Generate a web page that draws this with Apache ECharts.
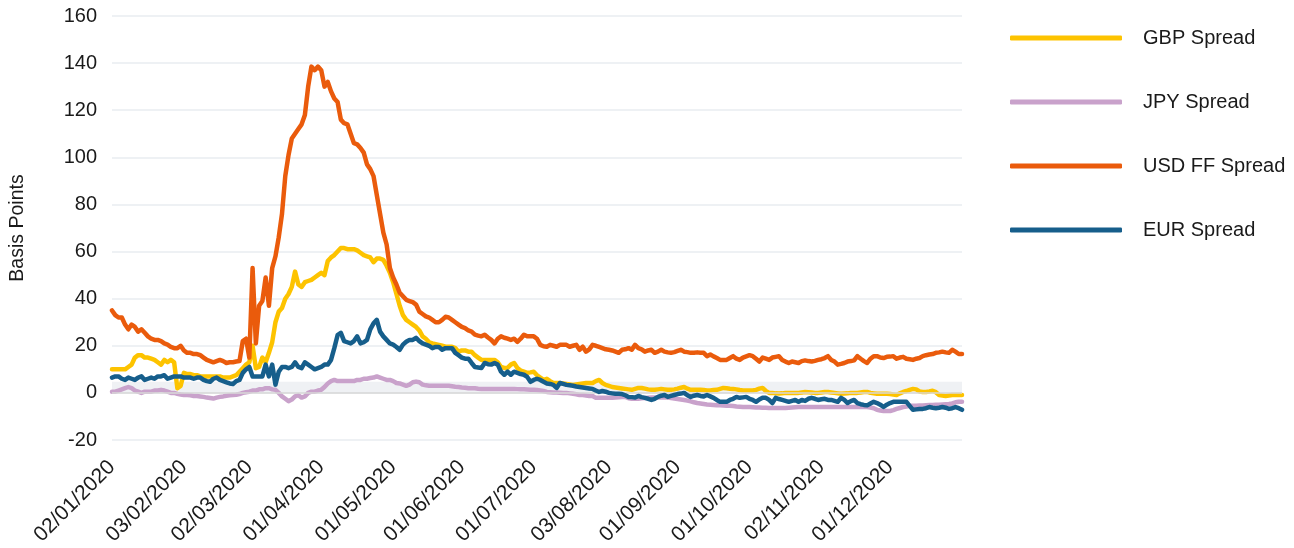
<!DOCTYPE html>
<html>
<head>
<meta charset="utf-8">
<script src="https://cdn.jsdelivr.net/npm/echarts@6/dist/echarts.min.js"></script>
<style>
html,body{margin:0;padding:0;background:#fff;}
#chart{width:1294px;height:548px;}
</style>
</head>
<body>
<div id="chart"></div>
<script>
// Business-day categories 02/01/2020 .. 31/12/2020
const startDate = '2020-01-02';
const endDate = '2020-12-31';

const seriesNames = ['GBP Spread', 'JPY Spread', 'USD FF Spread', 'EUR Spread'];
const seriesColors = ['#FDC300', '#C9A2CB', '#EA5B0C', '#165E8B'];

const yTicks = [-20, 0, 20, 40, 60, 80, 100, 120, 140, 160];

const gbpSpread = [
10,10,10,10,10,11,12,15,16,16,
15,15,14.5,14,13,12,14,13,14,13,
2,3,8.5,8,8,7.5,7.5,7,7,7,
7,7,7,7,6.5,6.5,6.5,7,7.5,9,
10.5,12,13,20,10.5,11,15,13,17,21.5,
30,34.5,36,40,42,45,51.5,46,45,47,
47.5,48,49,50,51,50,56,57.5,58.5,60,
61.5,61.5,61,61,61,60.5,59.5,58.5,58,57.5,
55.5,57,57,56.5,54,51,47,42,37,33,
31,30,29,28,26.5,24,23,21.5,21,20.7,
20.4,20,19.6,19.6,19.6,19,17.5,18,18,17.5,
17.5,16,15,14,14,14,14,14,13,11,
10.6,10.6,12,12.7,10.6,9.5,9,8.5,8.7,9,
7.5,6.5,5.5,6,5,4.2,4.2,4.2,4,3.8,
3.6,3.4,3.6,3.8,4,4.2,4.2,4.2,5,5.5,
4.2,3.4,3,2.5,2.3,2.1,1.9,1.7,1.5,1.3,
1.7,2.1,2.1,1.8,1.5,1.3,1.3,1.5,1.7,1.5,
1.3,1.3,1.5,1.8,2.2,2.5,1.8,1.3,1.3,1.3,
1.3,1.2,1,1,1.2,1.3,1.7,2.1,2,1.8,
1.7,1.5,1.2,1,1,1,1,1.3,1.8,2.1,
0.8,0,0,-0.2,-0.3,-0.2,0,0,0,0,
0,0.2,0.4,0.3,0.2,0,0,0.2,0.4,0.4,
0.2,0,-0.2,-0.4,-0.3,-0.2,0,0,0,0.2,
0.4,0.4,0,-0.2,-0.4,-0.4,-0.4,-0.4,-0.5,-0.7,
-0.9,-0.2,0.4,0.8,1.3,1.7,1.5,0.6,0.4,0.4,
0.6,0.9,0.3,-0.9,-1.1,-1.3,-1.1,-0.9,-0.9,-0.9,-0.9
];

const jpySpread = [
0.5,0.5,1,1.5,2,2.5,2,1,0.5,0,
0.5,0.5,0.5,1,1,1.3,1,0.5,0,0,
-0.4,-0.7,-0.9,-0.9,-1,-1.3,-1.3,-1.5,-1.7,-2,
-2.2,-2.4,-2,-1.7,-1.5,-1.2,-1,-0.9,-0.8,-0.5,
0,0.3,0.5,1,1,1.5,1.5,2,2,1.5,
1.3,0,-1.5,-2.5,-3.5,-2.8,-1.5,-1,-2,-1.5,
0,0.5,0.5,1,1.3,2.5,4,5,5.5,5,
5,5,5,5,5,5.5,5.5,6,6,6.3,
6.5,7,6.5,6,5.5,5.5,5,4.2,4,3.5,
3,3.5,4.5,4.8,4.5,3.5,3.2,3,3,3,
3,3,3,3,2.8,2.6,2.5,2.3,2.2,2,
2,2,1.8,1.7,1.7,1.7,1.7,1.7,1.7,1.7,
1.7,1.7,1.7,1.7,1.6,1.5,1.5,1.4,1.3,1.3,
1.2,1,0.8,0.4,0.3,0.2,0.2,0.1,0,0,
-0.2,-0.4,-0.6,-0.9,-0.9,-1.1,-1.3,-1.3,-2.1,-2.1,
-2.1,-2.1,-2.1,-2.1,-2,-1.9,-1.8,-1.7,-2.3,-2.5,
-2.5,-2.5,-2.3,-2.2,-2.1,-2,-2,-2,-2,-2,
-2,-2.2,-2.4,-2.6,-2.8,-3,-3.3,-3.6,-4,-4.3,
-4.5,-4.7,-4.9,-5,-5.1,-5.2,-5.3,-5.4,-5.5,-5.5,
-5.6,-5.8,-5.9,-6,-6,-6,-6.1,-6.2,-6.2,-6.3,
-6.3,-6.4,-6.4,-6.4,-6.4,-6.4,-6.4,-6.3,-6.2,-6.1,
-6,-6,-6,-6,-6,-6,-6,-6,-6,-6,
-6,-6,-6,-6,-6,-6,-6,-6,-6,-6,
-6,-6,-6.2,-6.5,-7.2,-7.5,-7.7,-7.7,-7.7,-7.3,
-6.8,-6.4,-6,-5.8,-5.5,-5.5,-5.5,-5.4,-5.3,-5.2,
-5.1,-5.1,-5,-5,-4.9,-4.8,-4.7,-4.5,-4,-3.8,-3.8
];

const usdFfSpread = [
35,33,32,32,29,27,29,28,26,27,
25.5,24,23,22.5,22.5,22,21,20.5,19.5,19,
19,20,18,17,17,16.5,16.5,16,15,14,
13.5,13,13.5,14,13.5,12.7,13,13,13.3,13.5,
22,23,15,53,21,37,39,49,37,53,
58,66,76,92,101,108,110,112,114,118,
130,138.5,137,138.5,137,130,132,128,125,123.5,
116,114.5,114,110,106,105.5,104,102,97,95,
92,84,76,68,63,53,49,46,42.5,41,
39.5,39,38.5,37.5,34.5,33.5,32.5,32,31,30,
30,31,32.3,32,31,30,29,28,27.5,26.5,
26,24.7,24.3,24,24.7,23.5,22.5,21,23,24,
23.4,23,22.5,23,21.7,23,24.7,24,24,24,
23,20.4,19.8,19.6,20.4,20,19.6,20.4,20.4,20.4,
19.6,20,20.4,18.3,19.6,17.5,18.5,20.4,20,19.5,
19,18.5,18.3,18,17.5,17,18.3,18.5,19,18.3,
20.4,19,18.5,17.5,18,18.3,17,17.5,18.3,17.5,
17.2,17,17.3,17.8,18.3,17.5,17.3,17,17,17.2,
17,17,15.6,16.3,15.5,14.8,14,14,14,14.8,
15.6,14.5,14,15,15.5,16,15.6,14.5,13.3,15,
14.5,14,15,15.3,15.6,14,13.3,12.7,13.3,13,
12.7,13.5,13.8,13.5,13.3,13.6,14,14.3,14.8,15.6,
14,13.3,12,12.3,12.7,13.3,13.5,13.8,15.6,14.5,
13.5,12.7,14.5,15.6,15.6,15,14.8,15.3,15.4,15.6,
14.5,15,15.3,14.5,14.3,14,14.5,14.8,15.6,16,
16.3,16.5,17,17.2,17.5,17.2,17,18.3,17.5,16.5,16.5
];

const eurSpread = [
6.5,7,7,6,5.5,6.5,6,5.5,6.5,7,
5.5,6,6.5,6,7,7,7.5,6,6.5,7,
7,7,6.5,6.5,6.5,6,6.5,6.5,5.5,5,
4.7,6,6.5,5.5,5,4.5,4,3.8,5,5.5,
8.5,10,11,7,7,7,7,12,7,12,
3.5,9,11,11,10.5,11,13,11,10.5,13,
12,11,10,10.5,11,12,12,14,19,24.5,
25.5,22,21.5,21,22,24,21,21.5,22.5,27,
29.5,31,26,24,22.5,21,20.5,19.5,18.3,20.5,
21.7,22.5,22.5,23.4,22,21,20.5,20,19,19.5,
19.5,18.3,19,19,19,17,16,15,14.5,14.5,
12.7,11,10.8,10.6,12.7,12.2,12,12.7,12,9,
7.7,9,7.7,9,8.5,8,7.7,6.8,4.7,5.5,
6,5.5,4.7,4,3.8,3.4,2.1,4.2,3.8,3.4,
3.2,3,2.7,2.5,2.3,2.1,1.9,1.7,1,0.4,
0.8,0.5,0,-0.2,-0.4,-0.4,-0.5,-1,-1.7,-1.8,
-2,-1.3,-1.8,-2.1,-2.5,-3,-2.5,-1.7,-1.2,-0.9,
-1.7,-1.3,-0.9,-0.5,-0.3,0,-1,-1.7,-1.2,-0.9,
-1.3,-1.5,-0.9,-1.5,-2.1,-3,-3.8,-3.8,-3.8,-3,
-2.5,-1.7,-2.1,-1.9,-1.7,-2.5,-3,-3.8,-2.8,-2.1,
-2.1,-3,-4.3,-2.1,-2.6,-3,-3.4,-3.8,-3.4,-3,
-3.8,-3,-3.4,-2.5,-2.1,-2.5,-3,-2.7,-2.5,-3,
-3,-3.4,-3.8,-2.1,-3,-4.3,-3.5,-3,-4.3,-4.8,
-5.1,-5.3,-4.5,-3.8,-4.3,-5,-6,-5,-4.3,-3.8,
-3.8,-3.8,-3.8,-3.8,-5.5,-7.2,-7,-6.8,-6.8,-6.5,
-6,-6.3,-6.5,-6.3,-6,-6.3,-6.8,-6.5,-6,-6.5,-7.2
];

// build weekday category labels
function pad(n){return n < 10 ? '0' + n : '' + n;}
const categories = [];
const monthStart = [];
(function(){
  const d = new Date(startDate + 'T00:00:00Z');
  const end = new Date(endDate + 'T00:00:00Z');
  let prevMonth = -1;
  while (d <= end) {
    const wd = d.getUTCDay();
    if (wd !== 0 && wd !== 6) {
      const m = d.getUTCMonth();
      categories.push(pad(d.getUTCDate()) + '/' + pad(m + 1) + '/' + d.getUTCFullYear());
      monthStart.push(m !== prevMonth);
      prevMonth = m;
    }
    d.setUTCDate(d.getUTCDate() + 1);
  }
})();

const seriesData = [gbpSpread, jpySpread, usdFfSpread, eurSpread];
const FONT = '"Liberation Sans", Arial, Helvetica, sans-serif';

const chart = echarts.init(document.getElementById('chart'), null, {renderer: 'canvas'});

const series = seriesNames.map(function(name, i){
  const s = {
    name: name,
    type: 'line',
    data: seriesData[i],
    color: seriesColors[i],
    symbol: 'none',
    showSymbol: false,
    lineStyle: {width: 4.5, color: seriesColors[i], join: 'round', cap: 'round'},
    z: 3 + i
  };
  if (i === 0) {
    s.markArea = {
      silent: true,
      itemStyle: {color: 'rgba(226,230,235,0.55)'},
      data: [[{yAxis: 0}, {yAxis: 4.7}]]
    };
    s.markLine = {
      silent: true,
      symbol: 'none',
      label: {show: false},
      lineStyle: {color: '#d8d8d8', width: 1.5, type: 'solid'},
      data: [{yAxis: 0}]
    };
  }
  return s;
});

chart.setOption({
  animation: false,
  backgroundColor: '#ffffff',
  textStyle: {fontFamily: FONT},
  grid: {left: 112, right: 332, top: 16, bottom: 108, containLabel: false},
  legend: {
    orient: 'vertical',
    left: 1005,
    top: 21,
    itemWidth: 112,
    itemHeight: 5,
    itemGap: 40,
    icon: 'roundRect',
    data: seriesNames,
    textStyle: {fontSize: 20, color: '#1a1a1a', fontFamily: FONT, padding: [0, 0, 0, 16], lineHeight: 24}
  },
  xAxis: {
    type: 'category',
    data: categories,
    boundaryGap: false,
    axisLine: {show: false},
    axisTick: {show: false},
    splitLine: {show: false},
    axisLabel: {
      rotate: 45,
      fontSize: 21,
      color: '#1a1a1a',
      fontFamily: FONT,
      margin: 24,
      interval: function(index){ return monthStart[index]; }
    }
  },
  yAxis: {
    type: 'value',
    min: yTicks[0],
    max: yTicks[yTicks.length - 1],
    interval: 20,
    name: 'Basis Points',
    nameLocation: 'middle',
    nameRotate: 90,
    nameGap: 84,
    nameTextStyle: {fontSize: 19.5, color: '#1a1a1a', fontFamily: FONT, padding: [0, 0, 0, 0]},
    axisLine: {show: false},
    axisTick: {show: false},
    axisLabel: {fontSize: 20, color: '#1a1a1a', fontFamily: FONT, margin: 15},
    splitLine: {lineStyle: {color: '#eef1f4', width: 2}}
  },
  series: series
});
</script>
</body>
</html>
